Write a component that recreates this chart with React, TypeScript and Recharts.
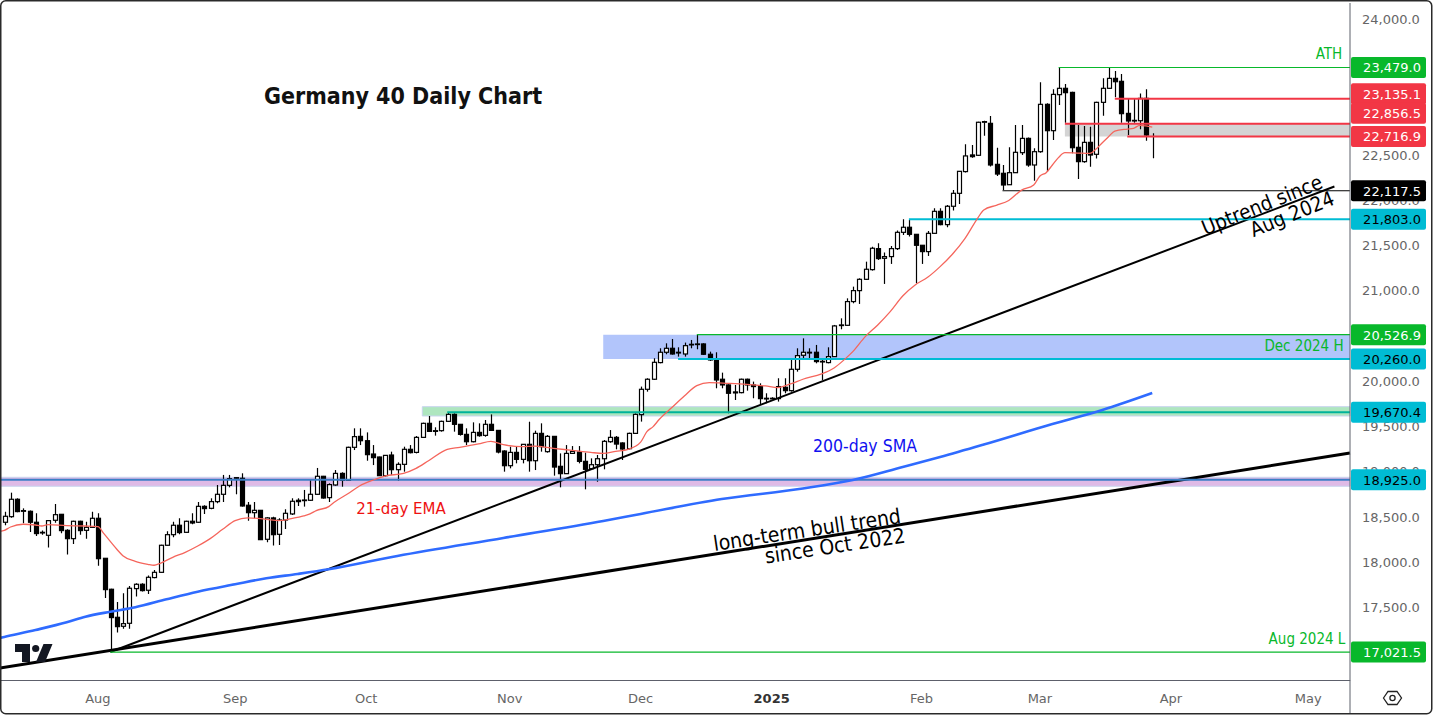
import {
  Bar,
  ComposedChart,
  Line,
  ReferenceArea,
  ReferenceLine,
  XAxis,
  YAxis
} from "recharts";

const FONT = "'DejaVu Sans', sans-serif";
const NOTE_FONT = "'DejaVu Sans Condensed', 'DejaVu Sans', sans-serif";

const opens = [
  18455,18517,18709,18576,18576,18455,18337,18311,18477,18543,
  18366,18274,18466,18366,18399,18499,18057,17715,17405,17306,
  17339,17722,17770,17704,17844,17902,18201,18318,18422,18344,
  18466,18455,18631,18609,18683,18764,18863,18941,18941,18643,
  18561,18587,18267,18503,18322,18480,18547,18698,18694,18698,
  18764,18963,18727,18867,18995,18918,19283,19404,19356,19209,
  19176,18970,19198,19036,19095,19261,19227,19393,19548,19459,
  19467,19570,19647,19537,19426,19345,19448,19415,19537,19470,
  19242,19080,19227,19150,19316,19135,19437,19235,19404,19073,
  18992,19216,19231,19128,19047,19091,19157,19345,19393,19331,
  19268,19437,19644,19924,20035,20219,20333,20377,20325,20314,
  20414,20418,20425,20311,20248,20035,19972,19895,19887,20035,
  19972,19954,19817,19825,19821,19946,19909,20145,20300,20325,
  20333,20233,20219,20285,20628,20631,20893,21014,21139,21246,
  21478,21371,21390,21478,21658,21714,21636,21515,21445,21647,
  21890,21743,21946,22089,22329,22513,22509,22874,22862,22409,
  22310,22184,22317,22538,22696,22402,22549,23072,22781,23179,
  23249,23204,22597,22439,22652,22520,23094,23249,23359,23326,
  22972,22888,22891,23138,22752
];

const highs = [
  18572,18782,18720,18609,18584,18554,18363,18480,18657,18547,
  18377,18473,18473,18462,18572,18554,18057,17720,17575,17670,
  17751,17781,17781,17866,17928,18208,18355,18462,18499,18473,
  18554,18679,18643,18720,18867,18978,18978,18952,18996,18679,
  18679,18591,18510,18517,18499,18598,18720,18720,18812,18922,
  19055,18967,18885,19032,19007,19290,19493,19493,19448,19308,
  19180,19198,19235,19117,19290,19308,19408,19555,19629,19504,
  19577,19666,19658,19540,19493,19559,19548,19585,19647,19474,
  19250,19290,19290,19320,19566,19467,19548,19419,19408,19216,
  19308,19297,19297,19224,19161,19198,19364,19474,19408,19338,
  19445,19658,19954,20046,20267,20377,20432,20480,20388,20440,
  20469,20527,20432,20340,20333,20108,19979,19972,20042,20042,
  20009,19990,19880,19836,20046,20046,20267,20377,20487,20377,
  20414,20267,20388,20635,20708,20929,21058,21150,21334,21500,
  21537,21434,21507,21677,21802,21795,21640,21519,21673,21924,
  21924,21960,22126,22336,22631,22623,22881,22892,22943,22593,
  22402,22597,22844,22844,22707,22586,23315,23083,23238,23479,
  23296,23212,22844,22833,22825,23101,23359,23479,23440,23407,
  23138,23138,23193,23238,22752
];

const lows = [
  18422,18506,18565,18444,18348,18304,18318,18175,18451,18333,
  18098,18215,18318,18274,18399,17976,17619,17021.5,17236,17280,
  17280,17634,17689,17663,17836,17899,18197,18289,18322,18341,
  18433,18451,18547,18598,18665,18679,18841,18764,18628,18473,
  18499,18263,18234,18197,18204,18381,18536,18635,18628,18690,
  18757,18716,18679,18859,18848,18914,19253,19308,19135,19087,
  18966,18959,18977,18914,19014,19216,19216,19389,19452,19412,
  19456,19563,19456,19412,19308,19338,19400,19400,19467,19216,
  19014,19051,19106,19106,19014,19032,19235,19224,18970,18841,
  18988,19209,19106,18819,19040,18903,19040,19334,19261,19143,
  19261,19430,19567,19898,20027,20211,20311,20307,20285,20285,
  20377,20366,20303,20237,19935,19935,19659,19806,19880,19909,
  19825,19762,19770,19814,19788,19880,19898,20119,20248,20255,
  20211,20027,20211,20285,20587,20628,20874,20867,21132,21235,
  21353,21088,21309,21463,21629,21611,21095,21309,21397,21644,
  21736,21714,21898,21971,22318,22483,22502,22726,22384,22280,
  22125,22181,22317,22512,22383,22229,22538,22328,22678,23064,
  22869,22531,22247,22427,22383,22475,22947,23245,23149,22869,
  22733,22869,22796,22670,22476
];

const closes = [
  18521,18709,18573,18584,18455,18330,18344,18473,18539,18363,
  18274,18466,18363,18399,18499,18053,17711,17402,17302,17335,
  17726,17770,17700,17847,17902,18201,18318,18422,18341,18466,
  18447,18631,18606,18683,18764,18863,18937,18948,18635,18561,
  18587,18263,18503,18318,18480,18554,18687,18683,18701,18764,
  18963,18723,18871,18995,18918,19283,19401,19356,19202,19169,
  18970,19194,19036,19095,19261,19224,19393,19548,19459,19467,
  19570,19647,19537,19426,19345,19448,19412,19537,19470,19231,
  19080,19227,19150,19316,19135,19437,19290,19404,19065,18992,
  19216,19238,19128,19040,19091,19157,19349,19393,19319,19264,
  19437,19647,19924,20035,20222,20333,20377,20314,20333,20406,
  20421,20425,20311,20248,20027,19972,19880,19884,20035,19972,
  19954,19821,19825,19821,19954,19909,20145,20296,20333,20333,
  20230,20226,20285,20624,20635,20893,21014,21139,21250,21482,
  21368,21390,21478,21658,21714,21636,21515,21445,21647,21890,
  21743,21946,22089,22332,22502,22494,22874,22881,22402,22302,
  22181,22317,22542,22696,22402,22549,23072,22781,23182,23249,
  23201,22593,22439,22652,22512,23094,23249,23359,23322,22969,
  22888,22895,23138,22733,22752
];

// moving averages at the bars listed
const emaBars = [
  -1,0,1,3,5,6,7,10,13,15,16,18,19,21,23,24,25,27,29,31,33,35,37,39,42,44,46,48,49,50,52,
  53,55,57,59,61,64,66,68,71,73,76,78,80,83,85,88,91,94,96,98,100,102,103,
  104,105,107,109,111,113,116,119,122,124,126,128,131,133,135,136,138,140,142,144,146,148,150,152,154,156,157,159,161,
  163,165,166,167,168,169,170,172,174,175,176,177,178,180,181,182,183,184
];
const emaValues = [
  18350,18366,18403,18433,18425,18414,18429,18418,18414,18407,18326,18160,18086,18024,17991,17980,18002,18068,18123,18193,18274,18377,18473,18503,18488,18473,18495,18525,18547,18584,18628,
  18682,18767,18859,18918,18966,18995,19051,19135,19261,19283,19320,19349,19312,19290,19297,19272,19250,19227,19216,19238,19261,19340,19456,
  19512,19593,19722,19850,19965,19998,19990,19979,19961,19943,19983,20035,20094,20160,20274,20340,20506,20635,20782,20955,21077,21161,21279,21419,21592,21813,21905,21957,22010,
  22122,22181,22280,22317,22402,22486,22538,22534,22530,22578,22648,22715,22777,22799,22807,22840,22833,22821
];
const smaBars = [-1,0,5,10,13,17,21,26,31,37,42,47,52,63,80,96,102,115,128,136,144,150,157,168,176,184];
const smaValues = [
  17172,17188,17265,17350,17412,17467,17516,17604,17688,17770,17836,17884,17936,
  18083,18282,18470,18547,18712,18828,18922,19066,19176,19314,19541,19696,19883
];

const priceTicks = [17500,18000,18500,19000,19500,20000,21000,21500,22000,22500,24000];
const monthBars = [15,37,58,81,102,123,147,166,187,209];
const monthLabels = ["Aug","Sep","Oct","Nov","Dec","2025","Feb","Mar","Apr","May"];

const tagValues = [23479,23135.1,22856.5,22716.9,22117.5,21803,20526.9,20260,19670.4,18925,17021.5];
const tagTexts = ["23,479.0","23,135.1","22,856.5","22,716.9","22,117.5","21,803.0","20,526.9","20,260.0","19,670.4","18,925.0","17,021.5"];
const tagFills = ["#08b82b","#f23645","#f23645","#f23645","#000000","#00bcd4","#08b82b","#00bcd4","#00bcd4","#00bcd4","#08b82b"];
const tagInk = ["#fff","#fff","#fff","#fff","#fff","#000","#fff","#000","#000","#000","#fff"];
const tagShift = [0,-5,-10.5,0,0,0,0,0,0,0,0];

const LAST_X = 215.7;
const trendStart = { x: 17, y: 17021.5 };
const uptrendEnd = { x: 213.2, y: 22164 };
const bullStart = { x: -0.69, y: 16845 };
const bullEnd = { x: LAST_X, y: 19220 };

const emaByBar = new Map(emaBars.map((b, k) => [b, emaValues[k]]));
const smaByBar = new Map(smaBars.map((b, k) => [b, smaValues[k]]));

const rows: any[] = [
  { i: -1, ema: emaByBar.get(-1), sma: smaByBar.get(-1) },
  ...opens.map((open, i) => ({
    i,
    open,
    high: highs[i],
    low: lows[i],
    close: closes[i],
    ema: emaByBar.get(i),
    sma: smaByBar.get(i)
  }))
];

function Candle(props: any) {
  const { x, y, width, height, payload } = props;
  const { open, high, low, close } = payload;
  if (open === undefined) return null;
  const perUnit = height / Math.max(high - low, 1);
  const top = y + (high - Math.max(open, close)) * perUnit;
  const bodyH = Math.max(Math.abs(open - close) * perUnit, 0.6);
  const cx = Math.round(x + width / 2) + 0.5;
  const up = close >= open;
  return (
    <g>
      <line x1={cx} x2={cx} y1={y} y2={y + height} stroke="#000" strokeWidth={1.2} />
      {open !== close && (
        <rect
          x={cx - 2}
          y={top}
          width={4}
          height={bodyH}
          fill={up ? "#fff" : "#000"}
          stroke="#000"
          strokeWidth={1.2}
        />
      )}
    </g>
  );
}

// plain ticks and the coloured price tags both come through the axis, tags last so they cover the ticks
function PriceTick(props: any) {
  const { y, payload } = props;
  const k = tagValues.indexOf(payload.value);
  if (k < 0) {
    return (
      <text x={1362} y={y - 1} dominantBaseline="central" fill="#666" fontFamily={FONT} fontSize={13}>
        {payload.value.toLocaleString("en-US", { minimumFractionDigits: 1 })}
      </text>
    );
  }
  const cy = y + tagShift[k];
  return (
    <g>
      <rect x={1351} y={cy - 10.5} width={75} height={21} rx={2} fill={tagFills[k]} />
      <text
        x={1421}
        y={cy + 0.5}
        textAnchor="end"
        dominantBaseline="central"
        fill={tagInk[k]}
        fontFamily={FONT}
        fontSize={13}
      >
        {tagTexts[k]}
      </text>
    </g>
  );
}

function MonthTick(props: any) {
  const { x, payload } = props;
  const label = monthLabels[monthBars.indexOf(payload.value)];
  const isYear = label === "2025";
  return (
    <text
      x={x}
      y={698}
      textAnchor="middle"
      dominantBaseline="central"
      fontFamily={FONT}
      fontSize={13}
      fontWeight={isYear ? 700 : 400}
      fill={isYear ? "#333" : "#666"}
    >
      {label}
    </text>
  );
}

function Overlay() {
  const note = { fontFamily: NOTE_FONT, textAnchor: "middle" as const, dominantBaseline: "central" as const };
  return (
    <svg width={1433} height={715} style={{ position: "absolute", left: 0, top: 0, pointerEvents: "none" }}>
      <text {...note} x={403} y={96} fontSize={23} fontWeight={700} fill="#111">Germany 40 Daily Chart</text>
      <text {...note} x={401} y={508} fontSize={16.7} fill="#ee1111">21-day EMA</text>
      <text {...note} x={865} y={446} fontSize={17.5} fill="#1010f0">200-day SMA</text>
      <text {...note} x={1329} y={54} fontSize={15} fill="#08b82b">ATH</text>
      <text {...note} x={1304} y={346} fontSize={15} fill="#08b82b">Dec 2024 H</text>
      <text {...note} x={1307} y={639} fontSize={15} fill="#08b82b">Aug 2024 L</text>
      <text {...note} x={1262} y={205} fontSize={20.5} fill="#000" transform="rotate(-22 1262 205)">Uptrend since</text>
      <text {...note} x={1292} y={214} fontSize={20.5} fill="#000" transform="rotate(-22 1292 214)">Aug 2024</text>
      <text {...note} x={807} y={530} fontSize={21} fill="#000" transform="rotate(-8.5 807 530)">long-term bull trend</text>
      <text {...note} x={835} y={546} fontSize={21} fill="#000" transform="rotate(-8.5 835 546)">since Oct 2022</text>
      <path d="M15 644H30V662H22V652H15Z M52.5 644L45 662H36L43.5 644Z" fill="#131722" />
      <circle cx={35.7} cy={648.5} r={3.6} fill="#131722" />
      <line x1={1350} x2={1350} y1={680} y2={714} stroke="#5d606b" strokeWidth={1} />
      <path d="M1383.5 698L1388 691.5H1397L1401.5 698L1397 704.5H1388Z" fill="none" stroke="#222" strokeWidth={1.3} />
      <circle cx={1392.5} cy={698} r={2.6} fill="none" stroke="#222" strokeWidth={1.3} />
      <rect x={0.75} y={0.75} width={1431} height={713} rx={5} fill="none" stroke="#2a2a2a" strokeWidth={1.5} />
    </svg>
  );
}

export default function App() {
  return (
    <div style={{ position: "absolute", left: 0, top: 0, width: 1433, height: 715, background: "#fff" }}>
      <ComposedChart
        width={1433}
        height={715}
        data={rows}
        margin={{ top: 3, right: 0, bottom: 0, left: 0 }}
      >
        <XAxis
          dataKey="i"
          type="number"
          domain={[-0.69, LAST_X]}
          ticks={monthBars}
          tick={<MonthTick />}
          tickLine={false}
          height={34.5}
          allowDataOverflow
          axisLine={{ stroke: "#5d606b" }}
        />
        <YAxis
          orientation="right"
          type="number"
          domain={[16707, 24191.5]}
          ticks={[...priceTicks, ...tagValues]}
          interval={0}
          width={83}
          allowDataOverflow
          tickLine={false}
          tick={<PriceTick />}
          axisLine={{ stroke: "#5d606b" }}
        />

        <ReferenceArea x1={96} x2={LAST_X} y1={20260} y2={20526.9} fill="#b2c5fb" fillOpacity={1} ifOverflow="visible" />
        <ReferenceArea x1={67} x2={LAST_X} y1={19629} y2={19732} fill="#4cc870" fillOpacity={0.45} stroke="#c8d4ee" ifOverflow="visible" />
        <ReferenceArea x1={170} x2={LAST_X} y1={22716.9} y2={22856.5} fill="#d4d4d4" fillOpacity={1} ifOverflow="visible" />

        <Bar
          dataKey={(d: any) => (d.open === undefined ? null : [d.low, d.high])}
          barSize={5}
          shape={<Candle />}
          isAnimationActive={false}
        />

        <ReferenceArea x1={-0.69} x2={LAST_X} y1={18853} y2={18952} fill="#9c27b0" fillOpacity={0.32} stroke="#c8d4ee" ifOverflow="visible" />

        <ReferenceLine segment={[trendStart, uptrendEnd]} stroke="#000" strokeWidth={2} ifOverflow="visible" />
        <ReferenceLine segment={[bullStart, bullEnd]} stroke="#000" strokeWidth={3} ifOverflow="visible" />

        <ReferenceLine segment={[{ x: 169, y: 23479 }, { x: LAST_X, y: 23479 }]} stroke="#08b82b" strokeWidth={1.2} />
        <ReferenceLine segment={[{ x: 178, y: 23135.1 }, { x: LAST_X, y: 23135.1 }]} stroke="#f23645" strokeWidth={2} />
        <ReferenceLine segment={[{ x: 170, y: 22856.5 }, { x: LAST_X, y: 22856.5 }]} stroke="#f23645" strokeWidth={2} />
        <ReferenceLine segment={[{ x: 180, y: 22716.9 }, { x: LAST_X, y: 22716.9 }]} stroke="#f23645" strokeWidth={2} />
        <ReferenceLine segment={[{ x: 160, y: 22117.5 }, { x: LAST_X, y: 22117.5 }]} stroke="#000" strokeWidth={1.2} />
        <ReferenceLine segment={[{ x: 145, y: 21803 }, { x: LAST_X, y: 21803 }]} stroke="#00bcd4" strokeWidth={2} />
        <ReferenceLine segment={[{ x: 111, y: 20526.9 }, { x: LAST_X, y: 20526.9 }]} stroke="#08b82b" strokeWidth={1.2} />
        <ReferenceLine segment={[{ x: 108, y: 20260 }, { x: LAST_X, y: 20260 }]} stroke="#00bcd4" strokeWidth={2} />
        <ReferenceLine segment={[{ x: 71, y: 19670.4 }, { x: LAST_X, y: 19670.4 }]} stroke="#00b39a" strokeWidth={2} />
        <ReferenceLine segment={[{ x: -0.69, y: 18925 }, { x: LAST_X, y: 18925 }]} stroke="#3b7ec6" strokeWidth={2} />
        <ReferenceLine segment={[{ x: 17, y: 17021.5 }, { x: LAST_X, y: 17021.5 }]} stroke="#08b82b" strokeWidth={1.2} />

        <Line dataKey="sma" connectNulls dot={false} stroke="#2f6bff" strokeWidth={2.6} type="monotone" isAnimationActive={false} />
        <Line dataKey="ema" connectNulls dot={false} stroke="#f5655c" strokeWidth={1.3} type="monotone" isAnimationActive={false} />
      </ComposedChart>
      <Overlay />
    </div>
  );
}
